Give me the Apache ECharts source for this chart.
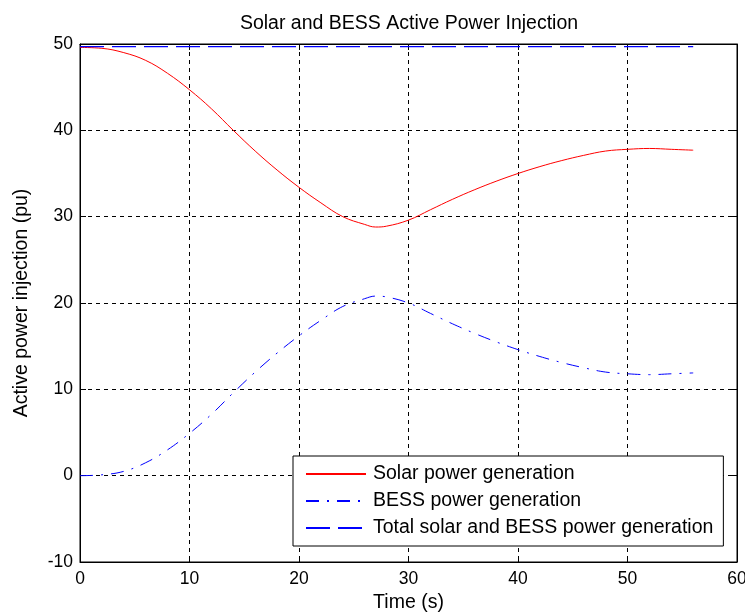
<!DOCTYPE html>
<html><head><meta charset="utf-8">
<script src="https://cdn.jsdelivr.net/npm/echarts@6/dist/echarts.min.js"></script>
<style>html,body{margin:0;padding:0;background:#fff}#c{width:745px;height:614px}</style>
</head><body><div id="c"></div>
<script>
const time  = [0,2,4,6,8,10,12,14,16,18,20,22,24,26,27,28,30,32,34,36,38,40,42,44,46,48,50,52,54,56];
const solar = [49.6,49.5,49.0,48.1,46.6,44.7,42.5,40.0,37.6,35.4,33.4,31.6,30.0,29.1,28.8,28.9,29.6,30.8,32.0,33.1,34.1,35.0,35.8,36.5,37.1,37.6,37.8,37.9,37.8,37.7];
const bess  = [0.0,0.1,0.5,1.5,3.0,4.9,7.1,9.6,12.0,14.2,16.2,18.0,19.6,20.5,20.8,20.7,20.0,18.8,17.6,16.5,15.5,14.6,13.8,13.1,12.5,12.0,11.8,11.7,11.8,11.9];
const totalT = [0,56];
const total = [49.7,49.7];
const xTicks = [0,10,20,30,40,50,60];
const yTicks = [-10,0,10,20,30,40,50];

const FONT = 'Liberation Sans, Arial, sans-serif';
const pair = (xs, ys) => xs.map((x,i)=>[x, ys[i]]);
const chart = echarts.init(document.getElementById('c'), null, {renderer:'canvas'});
const gridLine = {show:true, lineStyle:{color:'#000', type:[4,4], width:1}};
chart.setOption({
  animation:false,
  backgroundColor:'#fff',
  title:{text:'Solar and BESS Active Power Injection', left:404, textAlign:'center', top:9,
    textStyle:{fontFamily:FONT, fontSize:19.5, fontWeight:'normal', color:'#000'}},
  grid:{left:80, right:8, top:44, bottom:52, show:true, borderColor:'#000', borderWidth:1,
    backgroundColor:'transparent', outerBoundsMode:'none', containLabel:false},
  legend:{
    orient:'vertical', left:293, top:456,
    backgroundColor:'#fff', borderColor:'#000', borderWidth:1, borderRadius:0,
    padding:[8,10,8,12], itemGap:7, itemWidth:60, itemHeight:20,
    itemStyle:{opacity:0},
    textStyle:{fontFamily:FONT, fontSize:19.5, color:'#000', padding:[0,0,0,2]},
    data:['Solar power generation','BESS power generation','Total solar and BESS power generation']
  },
  xAxis:[{
    type:'value', min:0, max:60, interval:10,
    name:'Time (s)', nameLocation:'middle', nameGap:29,
    nameTextStyle:{fontFamily:FONT, fontSize:19.5, color:'#000'},
    axisLine:{show:true, onZero:false, lineStyle:{color:'#000'}},
    axisTick:{show:true, inside:true, length:6, lineStyle:{color:'#000'}},
    axisLabel:{fontFamily:FONT, fontSize:17.5, color:'#000', margin:8},
    splitLine:gridLine
  },{
    type:'value', min:0, max:60, interval:10, position:'top',
    axisLine:{show:true, onZero:false, lineStyle:{color:'#000'}},
    axisTick:{show:true, inside:true, length:6, lineStyle:{color:'#000'}},
    axisLabel:{show:false}, splitLine:{show:false}
  }],
  yAxis:[{
    type:'value', min:-10, max:50, interval:10,
    name:'Active power injection (pu)', nameLocation:'middle', nameGap:48, nameRotate:90,
    nameTextStyle:{fontFamily:FONT, fontSize:19.5, color:'#000'},
    axisLine:{show:true, onZero:false, lineStyle:{color:'#000'}},
    axisTick:{show:true, inside:true, length:6, lineStyle:{color:'#000'}},
    axisLabel:{fontFamily:FONT, fontSize:17.5, color:'#000', margin:7},
    splitLine:gridLine
  },{
    type:'value', min:-10, max:50, interval:10, position:'right',
    axisLine:{show:true, onZero:false, lineStyle:{color:'#000'}},
    axisTick:{show:true, inside:true, length:6, lineStyle:{color:'#000'}},
    axisLabel:{show:false}, splitLine:{show:false}
  }],
  series:[
    {name:'Solar power generation', type:'line', data:pair(time, solar), smooth:0.4, symbol:'none',
      lineStyle:{color:'#ff0000', width:1}, itemStyle:{color:'#ff0000'}},
    {name:'BESS power generation', type:'line', data:pair(time, bess), smooth:0.4, symbol:'none',
      lineStyle:{color:'#0000ff', width:1, type:[13,8,2,8]}, itemStyle:{color:'#0000ff'}},
    {name:'Total solar and BESS power generation', type:'line', data:pair(totalT, total), symbol:'none',
      lineStyle:{color:'#0000ff', width:1.3, type:[24,8]}, itemStyle:{color:'#0000ff'}}
  ]
});
</script></body></html>
